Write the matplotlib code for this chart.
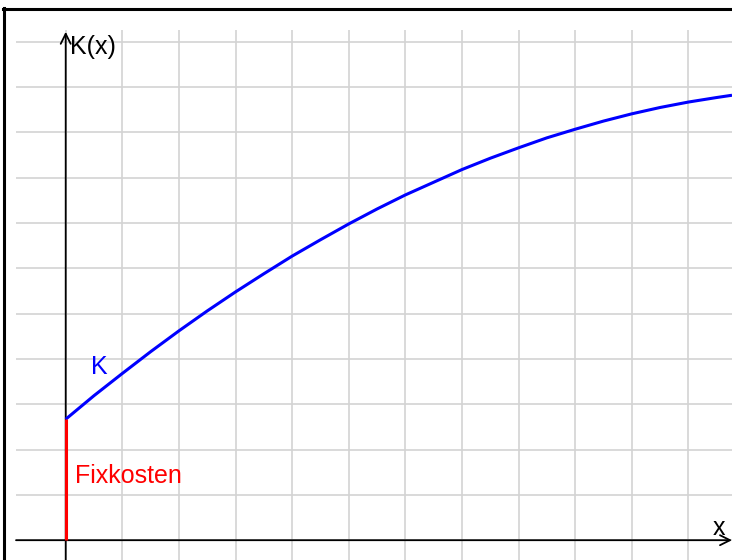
import matplotlib.pyplot as plt
from matplotlib.lines import Line2D

x_vals = [0, 0.5, 1, 1.5, 2, 2.5, 3, 3.5, 4, 4.5, 5, 5.5, 6, 6.5, 7, 7.5,
          8, 8.5, 9, 9.5, 10, 10.5, 11, 11.5, 11.77]
k_vals = [2.67, 3.19, 3.68, 4.16, 4.62, 5.06, 5.48, 5.88, 6.27, 6.63, 6.98, 7.31,
          7.62, 7.90, 8.18, 8.43, 8.66, 8.88, 9.07, 9.25, 9.41, 9.55, 9.67, 9.77, 9.82]
fixkosten = k_vals[0]

x_grid = list(range(0, 12))
y_grid = list(range(0, 12))

plt.rcParams['font.family'] = ['Liberation Sans', 'DejaVu Sans']

fig = plt.figure(figsize=(7.32, 5.6), dpi=100)
ax = fig.add_axes([16 / 732, 0, (732 - 16) / 732, (560 - 30) / 560])
ax.set_xlim(-0.878, 11.77)
ax.set_ylim(-0.437, 11.26)
ax.axis('off')

for gx in x_grid:
    ax.axvline(gx, color='#d3d3d3', lw=1.2, zorder=1)
for gy in y_grid:
    ax.axhline(gy, color='#d3d3d3', lw=1.2, zorder=1)

# Achsen mit Pfeilen
ax.annotate('', xy=(11.77, 0), xytext=(-0.878, 0),
            arrowprops=dict(arrowstyle='->', lw=1.3, color='black', mutation_scale=18,
                            shrinkA=0, shrinkB=0), zorder=3)
ax.annotate('', xy=(0, 11.22), xytext=(0, -0.437),
            arrowprops=dict(arrowstyle='->', lw=1.3, color='black', mutation_scale=18,
                            shrinkA=0, shrinkB=0), zorder=3)

ax.plot(x_vals, k_vals, color='#0000ff', lw=2.2, zorder=4, solid_capstyle='butt')
ax.plot([0, 0], [0, fixkosten], color='#ff0000', lw=2.2, zorder=5, solid_capstyle='butt')

fs = 18
ax.text(0.16, 1.42, 'Fixkosten', color='#ff0000', fontsize=fs, va='center', ha='left')
ax.text(0.44, 3.83, 'K', color='#0000ff', fontsize=fs, va='center', ha='left')
ax.text(0.07, 10.88, 'K(x)', color='black', fontsize=fs, va='center', ha='left')
ax.text(11.43, 0.27, 'x', color='black', fontsize=fs, va='center', ha='left')

# schwarzer Rahmen oben und links
fig.add_artist(Line2D([3 / 732, 1], [1 - 9 / 560, 1 - 9 / 560], color='black', lw=2.2,
                      transform=fig.transFigure))
fig.add_artist(Line2D([4 / 732, 4 / 732], [0, 1 - 8 / 560], color='black', lw=2.2,
                      transform=fig.transFigure))

fig.savefig('out.png', dpi=100)
